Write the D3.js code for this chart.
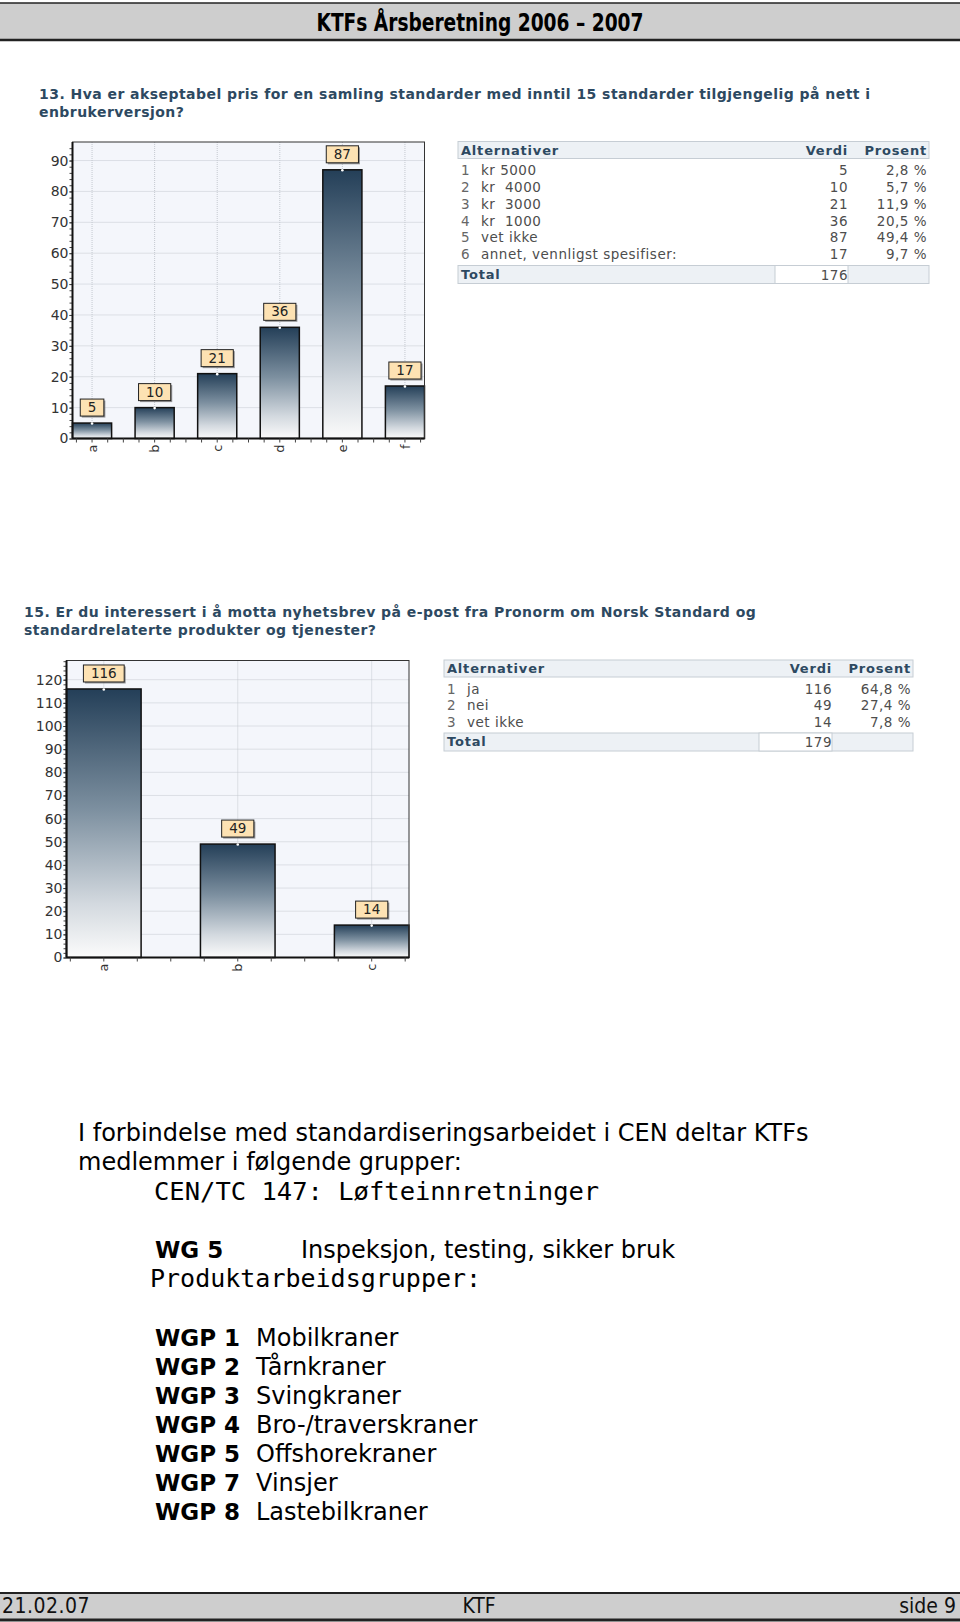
<!DOCTYPE html>
<html>
<head>
<meta charset="utf-8">
<script src="https://cdn.jsdelivr.net/npm/d3@7"></script>
<style>
  body { margin: 0; background: #fff; }
  svg { display: block; }
  text { white-space: pre; }
</style>
</head>
<body>
<div id="page"></div>
<script>
// page data
var pageTitle = 'KTFs Årsberetning 2006 – 2007';
var footerLeft = '21.02.07', footerMid = 'KTF', footerRight = 'side 9';

// question 13
var q13Title = ['13. Hva er akseptabel pris for en samling standarder med inntil 15 standarder tilgjengelig på nett i',
                'enbrukerversjon?'];
var q13Labels = ['a', 'b', 'c', 'd', 'e', 'f'];
var q13Values = [5, 10, 21, 36, 87, 17];
var q13Options = ['kr 5000', 'kr  4000', 'kr  3000', 'kr  1000', 'vet ikke', 'annet, vennligst spesifiser:'];
var q13Percent = ['2,8 %', '5,7 %', '11,9 %', '20,5 %', '49,4 %', '9,7 %'];
var q13Total = 176;

// question 15
var q15Title = ['15. Er du interessert i å motta nyhetsbrev på e-post fra Pronorm om Norsk Standard og',
                'standardrelaterte produkter og tjenester?'];
var q15Labels = ['a', 'b', 'c'];
var q15Values = [116, 49, 14];
var q15Options = ['ja', 'nei', 'vet ikke'];
var q15Percent = ['64,8 %', '27,4 %', '7,8 %'];
var q15Total = 179;

// text block
var introLines = ['I forbindelse med standardiseringsarbeidet i CEN deltar KTFs', 'medlemmer i følgende grupper:'];
var tcLine = 'CEN/TC 147: Løfteinnretninger';
var wgCode = 'WG 5', wgName = 'Inspeksjon, testing, sikker bruk';
var productHeading = 'Produktarbeidsgrupper:';
var wgpCodes = ['WGP 1', 'WGP 2', 'WGP 3', 'WGP 4', 'WGP 5', 'WGP 7', 'WGP 8'];
var wgpNames = ['Mobilkraner', 'Tårnkraner', 'Svingkraner', 'Bro-/traverskraner', 'Offshorekraner', 'Vinsjer', 'Lastebilkraner'];

var width = 960, height = 1622;
var titleColor = '#2d4961';
var narrow = '"Liberation Sans Narrow", "DejaVu Sans Condensed", sans-serif';
var verdana = '"DejaVu Sans", Verdana, sans-serif';
var mono = '"DejaVu Sans Mono", monospace';

var svg = d3.select('#page').append('svg')
    .attr('width', width)
    .attr('height', height);

svg.append('rect').attr('width', width).attr('height', height).attr('fill', '#fff');

var defs = svg.append('defs');
var grad = defs.append('linearGradient')
    .attr('id', 'barGrad')
    .attr('x1', 0).attr('y1', 0).attr('x2', 0).attr('y2', 1);
grad.append('stop').attr('offset', '0%').attr('stop-color', '#243f58');
grad.append('stop').attr('offset', '45%').attr('stop-color', '#7d90a0');
grad.append('stop').attr('offset', '80%').attr('stop-color', '#d3d9df');
grad.append('stop').attr('offset', '100%').attr('stop-color', '#fbfbfb');

// header band
svg.append('rect').attr('x', 0).attr('y', 3).attr('width', width).attr('height', 37).attr('fill', '#cecece');
svg.append('line').attr('x1', 0).attr('x2', width).attr('y1', 3).attr('y2', 3).attr('stroke', '#222').attr('stroke-width', 1.5);
svg.append('line').attr('x1', 0).attr('x2', width).attr('y1', 40).attr('y2', 40).attr('stroke', '#222').attr('stroke-width', 2.5);
svg.append('text')
    .attr('x', 480).attr('y', 31)
    .attr('text-anchor', 'middle')
    .attr('font-family', narrow).attr('font-weight', 'bold').attr('font-size', 25)
    .attr('textLength', 327).attr('lengthAdjust', 'spacingAndGlyphs')
    .attr('fill', '#000')
    .text(pageTitle);

// footer band
svg.append('rect').attr('x', 0).attr('y', 1593).attr('width', width).attr('height', 26).attr('fill', '#cecece');
svg.append('line').attr('x1', 0).attr('x2', width).attr('y1', 1593).attr('y2', 1593).attr('stroke', '#222').attr('stroke-width', 2);
svg.append('line').attr('x1', 0).attr('x2', width).attr('y1', 1620).attr('y2', 1620).attr('stroke', '#222').attr('stroke-width', 3);
var foot = svg.append('g').attr('font-family', narrow).attr('font-size', 21).attr('fill', '#111');
foot.append('text').attr('x', 2).attr('y', 1613).attr('letter-spacing', 0.5).text(footerLeft);
foot.append('text').attr('x', 479).attr('y', 1613).attr('text-anchor', 'middle').text(footerMid);
foot.append('text').attr('x', 956).attr('y', 1613).attr('text-anchor', 'end').text(footerRight);

function drawTitle(lines, x, y) {
    svg.append('g')
        .attr('font-family', verdana).attr('font-weight', 'bold').attr('font-size', 14)
        .attr('letter-spacing', 0.45)
        .attr('fill', titleColor)
        .selectAll('text').data(lines).enter().append('text')
        .attr('x', x)
        .attr('y', function(d, i) { return y + i * 17.5; })
        .text(function(d) { return d; });
}

function drawChart(o) {
    var g = svg.append('g');

    var x = d3.scaleBand()
        .domain(o.labels)
        .range([o.x0, o.x1])
        .paddingInner(o.pad)
        .paddingOuter(0);

    var y = d3.scaleLinear()
        .domain([0, o.yMax])
        .range([o.y1, o.y0]);

    var data = o.labels.map(function(d, i) { return {label: d, value: o.values[i]}; });
    var cx = function(d) { return x(d.label) + x.bandwidth() / 2; };

    g.append('rect')
        .attr('x', o.x0).attr('y', o.y0)
        .attr('width', o.x1 - o.x0).attr('height', o.y1 - o.y0)
        .attr('fill', '#f4f6fb');

    // dotted grid
    g.selectAll('.hgrid')
        .data(d3.range(10, o.yMax, 10))
        .enter().append('line')
        .attr('class', 'hgrid')
        .attr('x1', o.x0).attr('x2', o.x1)
        .attr('y1', function(d) { return y(d); })
        .attr('y2', function(d) { return y(d); })
        .attr('stroke', '#c4c8cf').attr('stroke-dasharray', '1,1');

    g.selectAll('.vgrid')
        .data(data)
        .enter().append('line')
        .attr('class', 'vgrid')
        .attr('x1', cx).attr('x2', cx)
        .attr('y1', o.y0).attr('y2', o.y1)
        .attr('stroke', '#c4c8cf').attr('stroke-dasharray', '1,1');

    // bars
    g.selectAll('.bar')
        .data(data)
        .enter().append('rect')
        .attr('class', 'bar')
        .attr('x', function(d) { return x(d.label); })
        .attr('y', function(d) { return y(d.value); })
        .attr('width', x.bandwidth())
        .attr('height', function(d) { return y(0) - y(d.value); })
        .attr('fill', 'url(#barGrad)')
        .attr('stroke', '#111').attr('stroke-width', 1.5);

    g.selectAll('.dot')
        .data(data)
        .enter().append('circle')
        .attr('cx', cx)
        .attr('cy', function(d) { return y(d.value) + 0.5; })
        .attr('r', 1.3)
        .attr('fill', '#fff');

    // frame
    g.append('rect')
        .attr('x', o.x0).attr('y', o.y0)
        .attr('width', o.x1 - o.x0).attr('height', o.y1 - o.y0)
        .attr('fill', 'none').attr('stroke', '#333').attr('stroke-width', 1);

    // y axis
    var yAxis = g.append('g')
        .attr('transform', 'translate(' + o.x0 + ',0)')
        .call(d3.axisLeft(y).tickValues(d3.range(0, o.yMax, 10)).tickSize(3).tickPadding(1));
    yAxis.select('.domain').remove();
    yAxis.selectAll('text')
        .attr('font-family', verdana).attr('font-size', 14).attr('fill', '#333');
    yAxis.selectAll('line').attr('stroke', '#333');

    var yMinor = g.append('g')
        .attr('transform', 'translate(' + o.x0 + ',0)')
        .call(d3.axisLeft(y).tickValues(d3.range(0, o.yMax, 2)).tickSize(3).tickFormat(''));
    yMinor.select('.domain').remove();
    yMinor.selectAll('line').attr('stroke', '#444');

    g.append('line')
        .attr('x1', o.x0).attr('x2', o.x0).attr('y1', o.y0).attr('y2', o.y1)
        .attr('stroke', '#111').attr('stroke-width', 2);
    g.append('line')
        .attr('x1', o.x0).attr('x2', o.x1).attr('y1', o.y1).attr('y2', o.y1)
        .attr('stroke', '#111').attr('stroke-width', 2);

    // x ticks every quarter step, centred on the bands
    var q = x.step() / 4, c0 = x(o.labels[0]) + x.bandwidth() / 2;
    var xt = d3.range(-8, o.labels.length * 4 + 8)
        .map(function(k) { return c0 + k * q; })
        .filter(function(v) { return v >= o.x0 - 0.5 && v <= o.x1 + 0.5; });
    g.selectAll('.xtick')
        .data(xt)
        .enter().append('line')
        .attr('x1', function(d) { return d; }).attr('x2', function(d) { return d; })
        .attr('y1', o.y1).attr('y2', o.y1 + 4)
        .attr('stroke', '#444');

    g.selectAll('.xlab')
        .data(data)
        .enter().append('text')
        .attr('transform', function(d) { return 'translate(' + cx(d) + ',' + (o.y1 + 6) + ') rotate(-90)'; })
        .attr('text-anchor', 'end')
        .attr('dy', '0.35em')
        .attr('font-family', verdana).attr('font-size', 13).attr('fill', '#333')
        .text(function(d) { return d.label; });

    // value boxes
    var box = g.selectAll('.vbox')
        .data(data)
        .enter().append('g')
        .attr('transform', function(d) { return 'translate(' + cx(d) + ',' + (y(d.value) - 7) + ')'; });

    box.each(function(d) {
        var b = d3.select(this);
        var t = b.append('text')
            .attr('y', -4)
            .attr('text-anchor', 'middle')
            .attr('font-family', verdana).attr('font-size', 13.5).attr('fill', '#222')
            .text(d.value);
        var w = t.node().getComputedTextLength() + 15;
        b.insert('rect', 'text')
            .attr('x', -w / 2 + 1.5).attr('y', -17 + 1.5)
            .attr('width', w).attr('height', 17)
            .attr('fill', '#6b6b6b').attr('opacity', 0.7);
        b.insert('rect', 'text')
            .attr('x', -w / 2).attr('y', -17)
            .attr('width', w).attr('height', 17)
            .attr('fill', '#fde2b3')
            .attr('stroke', '#222').attr('stroke-width', 1);
    });
}

function drawTable(o) {
    var g = svg.append('g').attr('font-family', verdana).attr('font-size', 13.5).attr('letter-spacing', 0.5);
    var vRight = o.x1 - 81, pRight = o.x1 - 2;

    g.append('rect')
        .attr('x', o.x0).attr('y', o.y0).attr('width', o.x1 - o.x0).attr('height', 17)
        .attr('fill', '#edf1f5').attr('stroke', '#c6cdd4');
    var head = g.append('g').attr('font-weight', 'bold').attr('font-size', 13).attr('fill', titleColor).attr('letter-spacing', 0.8);
    head.append('text').attr('x', o.x0 + 3).attr('y', o.y0 + 13).text('Alternativer');
    head.append('text').attr('x', vRight).attr('y', o.y0 + 13).attr('text-anchor', 'end').text('Verdi');
    head.append('text').attr('x', pRight).attr('y', o.y0 + 13).attr('text-anchor', 'end').text('Prosent');

    var rowY = function(i) { return o.y0 + 17 + 12 + i * o.rowH; };
    var rows = g.selectAll('.row')
        .data(o.options)
        .enter().append('g')
        .attr('transform', function(d, i) { return 'translate(0,' + rowY(i) + ')'; })
        .attr('fill', '#4d4d4d');
    rows.append('text').attr('x', o.x0 + 3).attr('dy', '0.35em').attr('fill', '#666')
        .text(function(d, i) { return i + 1; });
    rows.append('text').attr('x', o.x0 + 23).attr('dy', '0.35em')
        .text(function(d) { return d; });
    rows.append('text').attr('x', vRight).attr('dy', '0.35em').attr('text-anchor', 'end')
        .text(function(d, i) { return o.values[i]; });
    rows.append('text').attr('x', pRight).attr('dy', '0.35em').attr('text-anchor', 'end')
        .text(function(d, i) { return o.percent[i]; });

    var ty = rowY(o.options.length - 1) + 11;
    g.append('rect')
        .attr('x', o.x0).attr('y', ty).attr('width', o.x1 - o.x0).attr('height', 18)
        .attr('fill', '#edf1f5').attr('stroke', '#c6cdd4');
    g.append('rect')
        .attr('x', o.x1 - 154).attr('y', ty).attr('width', 73).attr('height', 18)
        .attr('fill', '#fff').attr('stroke', '#c6cdd4');
    g.append('text').attr('x', o.x0 + 3).attr('y', ty + 13)
        .attr('font-weight', 'bold').attr('font-size', 13).attr('fill', titleColor).attr('letter-spacing', 0.8)
        .text('Total');
    g.append('text').attr('x', vRight).attr('y', ty + 14).attr('text-anchor', 'end').attr('fill', '#4d4d4d')
        .text(o.total);
}

// question 13
drawTitle(q13Title, 39, 99);
drawChart({labels: q13Labels, values: q13Values, yMax: 96, pad: 0.375,
           x0: 72.5, x1: 424.5, y0: 142, y1: 438.5});
drawTable({options: q13Options, values: q13Values, percent: q13Percent, total: q13Total,
           x0: 458, x1: 929, y0: 141.5, rowH: 16.8});

// question 15
drawTitle(q15Title, 24, 617);
drawChart({labels: q15Labels, values: q15Values, yMax: 128.3, pad: 0.443,
           x0: 66.5, x1: 409, y0: 660.5, y1: 957.5});
drawTable({options: q15Options, values: q15Values, percent: q15Percent, total: q15Total,
           x0: 444, x1: 913, y0: 660, rowH: 16.5});

// text block
var txt = svg.append('g').attr('fill', '#000');
txt.selectAll('.intro')
    .data(introLines)
    .enter().append('text')
    .attr('x', 78)
    .attr('y', function(d, i) { return 1141 + i * 28.5; })
    .attr('font-family', verdana).attr('font-size', 24)
    .text(function(d) { return d; });

txt.append('text').attr('x', 154).attr('y', 1200)
    .attr('font-family', mono).attr('font-size', 25.5)
    .text(tcLine);
txt.append('text').attr('x', 155).attr('y', 1258)
    .attr('font-family', verdana).attr('font-weight', 'bold').attr('font-size', 23)
    .text(wgCode);
txt.append('text').attr('x', 301).attr('y', 1258)
    .attr('font-family', verdana).attr('font-size', 24)
    .text(wgName);
txt.append('text').attr('x', 150).attr('y', 1287)
    .attr('font-family', mono).attr('font-size', 25)
    .text(productHeading);

var wgp = txt.selectAll('.wgp')
    .data(wgpCodes)
    .enter().append('g')
    .attr('transform', function(d, i) { return 'translate(0,' + (1346 + i * 29) + ')'; });
wgp.append('text').attr('x', 155)
    .attr('font-family', verdana).attr('font-weight', 'bold').attr('font-size', 23)
    .text(function(d) { return d; });
wgp.append('text').attr('x', 256)
    .attr('font-family', verdana).attr('font-size', 24)
    .text(function(d, i) { return wgpNames[i]; });
</script>
</body>
</html>
